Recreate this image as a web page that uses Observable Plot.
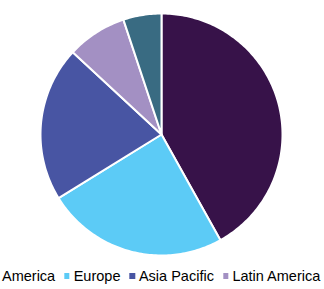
<!DOCTYPE html>
<html>
<head>
<meta charset="utf-8">
<script src="https://cdn.jsdelivr.net/npm/d3@7"></script>
<script src="https://cdn.jsdelivr.net/npm/@observablehq/plot@0.6"></script>
<style>
  html, body { margin: 0; padding: 0; background: #fff; }
  #wrap { position: relative; width: 324px; height: 289px; overflow: hidden; }
  #legend { position: absolute; left: 0; top: 268px; width: 324px; height: 18px; overflow: hidden; }
  #legend .inner { position: absolute; left: 50%; transform: translateX(-50%); white-space: nowrap;
    font-family: "Liberation Sans", Arial, sans-serif; font-size: 14.5px; line-height: 16px; color: #000; display: flex; align-items: center; }
  #legend .item { display: flex; align-items: center; margin: 0 4.5px; }
  #legend .sw { width: 5.5px; height: 5.5px; margin-right: 4px; display: inline-block; }
</style>
</head>
<body>
<div id="wrap">
  <div id="chart"></div>
  <div id="legend"><div class="inner"></div></div>
</div>
<script>
const regions = ["North America", "Europe", "Asia Pacific", "Latin America", "MEA"];
const shares = [41.9, 24.3, 20.7, 8.0, 5.1];
const colors = ["#371249", "#5ccbf6", "#4855a3", "#a390c3", "#396b82"];

// slice angles from d3.pie (clockwise from 12 o'clock, no sorting)
const arcs = d3.pie().sort(null).value(d => d)(shares);
const pts = [];
arcs.forEach((a, i) => {
  const name = regions[i];
  pts.push({name, x: 0, y: 0});
  const n = Math.max(2, Math.ceil((a.endAngle - a.startAngle) / (Math.PI / 180)));
  for (let k = 0; k <= n; k++) {
    const t = a.startAngle + (a.endAngle - a.startAngle) * k / n;
    pts.push({name, x: Math.sin(t), y: Math.cos(t)});
  }
});

const chart = Plot.plot({
  width: 324,
  height: 260,
  marginLeft: 40,
  marginRight: 42,
  marginTop: 13,
  marginBottom: 5,
  x: {domain: [-1, 1], axis: null},
  y: {domain: [-1, 1], axis: null},
  color: {domain: regions, range: colors},
  marks: [
    Plot.line(pts, {x: "x", y: "y", z: "name", fill: "name", stroke: "white", strokeWidth: 2, curve: "linear-closed", strokeLinejoin: "round"})
  ]
});
document.getElementById("chart").appendChild(chart);

const inner = document.querySelector("#legend .inner");
regions.forEach((r, i) => {
  const it = document.createElement("span");
  it.className = "item";
  const sw = document.createElement("span");
  sw.className = "sw";
  sw.style.background = colors[i];
  it.appendChild(sw);
  it.appendChild(document.createTextNode(r));
  inner.appendChild(it);
});
</script>
</body>
</html>
